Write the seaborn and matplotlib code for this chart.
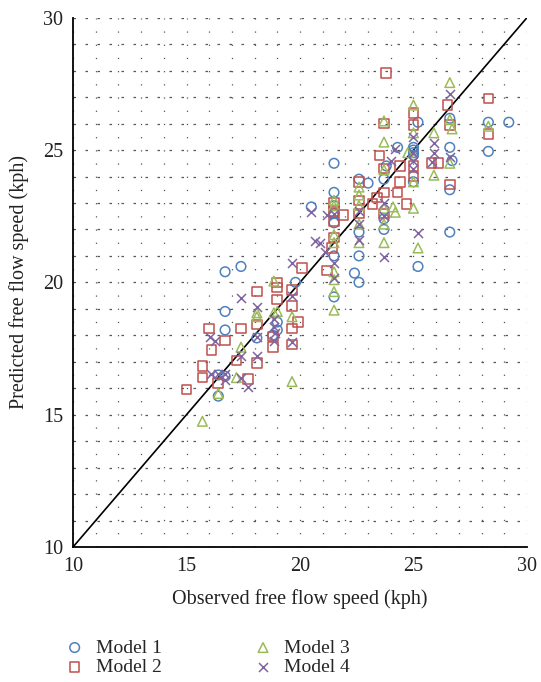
import matplotlib
matplotlib.use("Agg")
import matplotlib.pyplot as plt
import seaborn as sns
import numpy as np
import pandas as pd
from matplotlib.ticker import MultipleLocator

# ---------------- data ----------------
model_names = ["Model 1", "Model 2", "Model 3", "Model 4"]

m1_x = [16.4, 16.7, 16.7, 16.7, 16.7, 17.4, 18.1, 18.8, 19.0, 19.0, 19.8, 20.5,
        21.5, 21.5, 21.5, 21.5, 21.5, 21.5, 22.4, 22.6, 22.6, 22.6, 23.0, 22.6,
        23.7, 23.8, 24.3, 25.2, 25.0, 25.0, 25.0, 25.0, 25.2, 26.6, 26.6, 26.7,
        26.6, 26.6, 28.3, 29.2, 28.3, 16.4, 21.5, 23.7, 23.7, 25.0]
m1_y = [15.7, 16.45, 18.2, 18.9, 20.4, 20.6, 17.9, 18.0, 18.5, 18.2, 20.0, 22.85,
        24.5, 23.4, 22.9, 22.25, 21.0, 19.45, 20.35, 20.0, 21.0, 21.9, 23.75, 23.9,
        23.9, 24.4, 25.1, 26.05, 25.0, 24.9, 24.8, 23.8, 20.6, 26.2, 25.1, 24.6,
        23.5, 21.9, 26.05, 26.05, 24.95, 16.5, 22.6, 22.4, 22.0, 25.1]

m2_x = [15.0, 15.7, 15.7, 16.0, 16.1, 16.4, 16.7, 17.2, 17.4, 17.7, 18.1, 18.1,
        18.1, 18.8, 18.8, 19.0, 19.0, 19.0, 19.65, 19.65, 19.65, 19.65, 19.9, 20.1,
        21.2, 21.4, 21.5, 21.5, 21.5, 21.9, 22.6, 22.6, 22.6, 23.2, 23.4, 23.7,
        23.8, 23.7, 23.7, 23.5, 24.4, 24.4, 24.3, 24.7, 25.0, 25.0, 25.0, 25.0,
        25.8, 26.1, 26.5, 26.6, 26.6, 28.3, 28.3, 23.7, 21.5]
m2_y = [15.95, 16.85, 16.4, 18.25, 17.45, 16.2, 17.8, 17.05, 18.25, 16.35, 19.65, 18.4,
        16.95, 17.95, 17.55, 20.0, 19.8, 19.35, 19.7, 19.1, 18.25, 17.65, 18.5, 20.55,
        20.45, 21.3, 23.0, 22.7, 22.3, 22.55, 23.8, 23.1, 22.6, 22.95, 23.2, 23.4,
        27.9, 26.0, 24.3, 24.8, 24.4, 23.8, 23.4, 22.95, 26.4, 25.95, 24.4, 24.0,
        24.5, 24.5, 26.7, 25.95, 23.7, 26.95, 25.6, 22.6, 21.7]

m3_x = [15.7, 16.4, 17.2, 17.4, 18.1, 18.1, 18.85, 18.85, 19.0, 19.65, 19.65, 21.5,
        21.5, 21.5, 21.5, 21.5, 21.5, 21.5, 21.5, 22.6, 22.6, 22.6, 22.6, 23.7,
        23.7, 23.7, 23.7, 23.7, 23.7, 24.1, 24.2, 24.75, 25.0, 25.0, 25.0, 25.2,
        25.9, 25.9, 26.6, 26.6, 26.7, 26.6, 28.3, 25.0, 22.6]
m3_y = [14.75, 15.8, 16.4, 17.55, 18.85, 18.7, 20.05, 18.85, 18.9, 18.7, 16.25, 21.5,
        20.4, 20.1, 19.65, 18.95, 21.8, 22.9, 23.1, 21.5, 22.9, 23.6, 22.2, 21.5,
        22.2, 22.8, 24.25, 25.3, 26.1, 22.85, 22.65, 24.9, 26.7, 25.65, 23.8, 21.3,
        25.65, 24.05, 27.55, 26.15, 25.8, 24.5, 25.9, 22.8, 23.3]

m4_x = [16.05, 16.25, 16.1, 16.4, 16.7, 16.7, 17.4, 17.4, 17.4, 17.7, 18.1, 18.1,
        18.1, 18.85, 18.85, 18.85, 19.65, 19.65, 19.65, 20.5, 20.65, 21.1, 21.2, 21.5,
        21.5, 21.5, 22.6, 22.6, 22.6, 23.7, 23.7, 23.7, 24.0, 24.2, 25.2, 25.0,
        25.0, 25.0, 25.0, 25.8, 25.9, 25.9, 26.6, 26.6, 18.9, 20.9]
m4_y = [17.95, 17.8, 16.55, 16.55, 16.3, 16.55, 19.4, 17.2, 16.4, 16.05, 19.05, 17.95,
        17.2, 18.6, 18.3, 17.8, 20.75, 19.5, 17.75, 22.65, 21.55, 21.15, 22.55, 20.75,
        20.15, 22.6, 21.6, 22.2, 22.7, 20.95, 22.5, 23.0, 24.6, 25.05, 21.85, 25.5,
        24.9, 24.3, 24.6, 24.55, 25.25, 24.9, 24.75, 27.1, 18.1, 21.5]

ref_line = [10, 30]
x_ticks = [10, 15, 20, 25, 30]
y_ticks = [10, 15, 20, 25, 30]

# ---------------- style ----------------
sns.set_style("white")
plt.rcParams["font.family"] = ["Liberation Serif", "DejaVu Serif"]

colors = ["#4F81BD", "#C0504D", "#9BBB59", "#8064A2"]
markers = ["o", "s", "^", "x"]
series = [(m1_x, m1_y), (m2_x, m2_y), (m3_x, m3_y), (m4_x, m4_y)]

fig = plt.figure(figsize=(5.41, 6.82), dpi=100)
ax = fig.add_axes([0.135, 0.198, 0.839, 0.776])

# grid
ax.set_xlim(10, 30)
ax.set_ylim(10, 30)
ax.set_xticks(x_ticks)
ax.set_yticks(y_ticks)
ax.xaxis.set_minor_locator(MultipleLocator(1))
ax.yaxis.set_minor_locator(MultipleLocator(1))
ax.grid(True, which="both", axis="x", color="#555555", linewidth=0.9,
        linestyle=(0, (1, 9.56)))
ax.grid(True, which="both", axis="y", color="#555555", linewidth=0.9,
        linestyle=(0, (2, 7.6)))
ax.set_axisbelow(True)

# reference line
sns.lineplot(x=ref_line, y=ref_line, ax=ax, color="black", linewidth=1.2,
             zorder=3, legend=False)

# scatter series
for (xs, ys), name, c, m in zip(series, model_names, colors, markers):
    df = pd.DataFrame({"obs": xs, "pred": ys})
    if m == "x":
        sns.scatterplot(data=df, x="obs", y="pred", ax=ax, marker=m, color=c,
                        s=42, linewidth=1.1, label=name, zorder=4)
    else:
        sns.scatterplot(data=df, x="obs", y="pred", ax=ax, marker=m,
                        facecolor="none", edgecolor=c, s=48, linewidth=1.1,
                        label=name, zorder=4)

for s in ["top", "right"]:
    ax.spines[s].set_visible(False)
for s in ["left", "bottom"]:
    ax.spines[s].set_color("black")
    ax.spines[s].set_linewidth(1.3)

ax.tick_params(axis="both", length=0, labelsize=14.5, pad=7, colors="#222222")
ax.set_xlabel("Observed free flow speed (kph)", fontsize=14.5, labelpad=10,
              color="#222222")
ax.set_ylabel("Predicted free flow speed (kph)", fontsize=14.5, labelpad=10,
              color="#222222")

handles, labels = ax.get_legend_handles_labels()
ax.get_legend().remove()
fig.legend(handles, labels, loc="upper left", bbox_to_anchor=(0.12, 0.063),
           ncol=2, frameon=False, fontsize=14, handlelength=1.0,
           handletextpad=0.6, columnspacing=4.7, labelspacing=0.08,
           borderpad=0, borderaxespad=0, scatterpoints=1)

fig.savefig("out.png", dpi=100)
